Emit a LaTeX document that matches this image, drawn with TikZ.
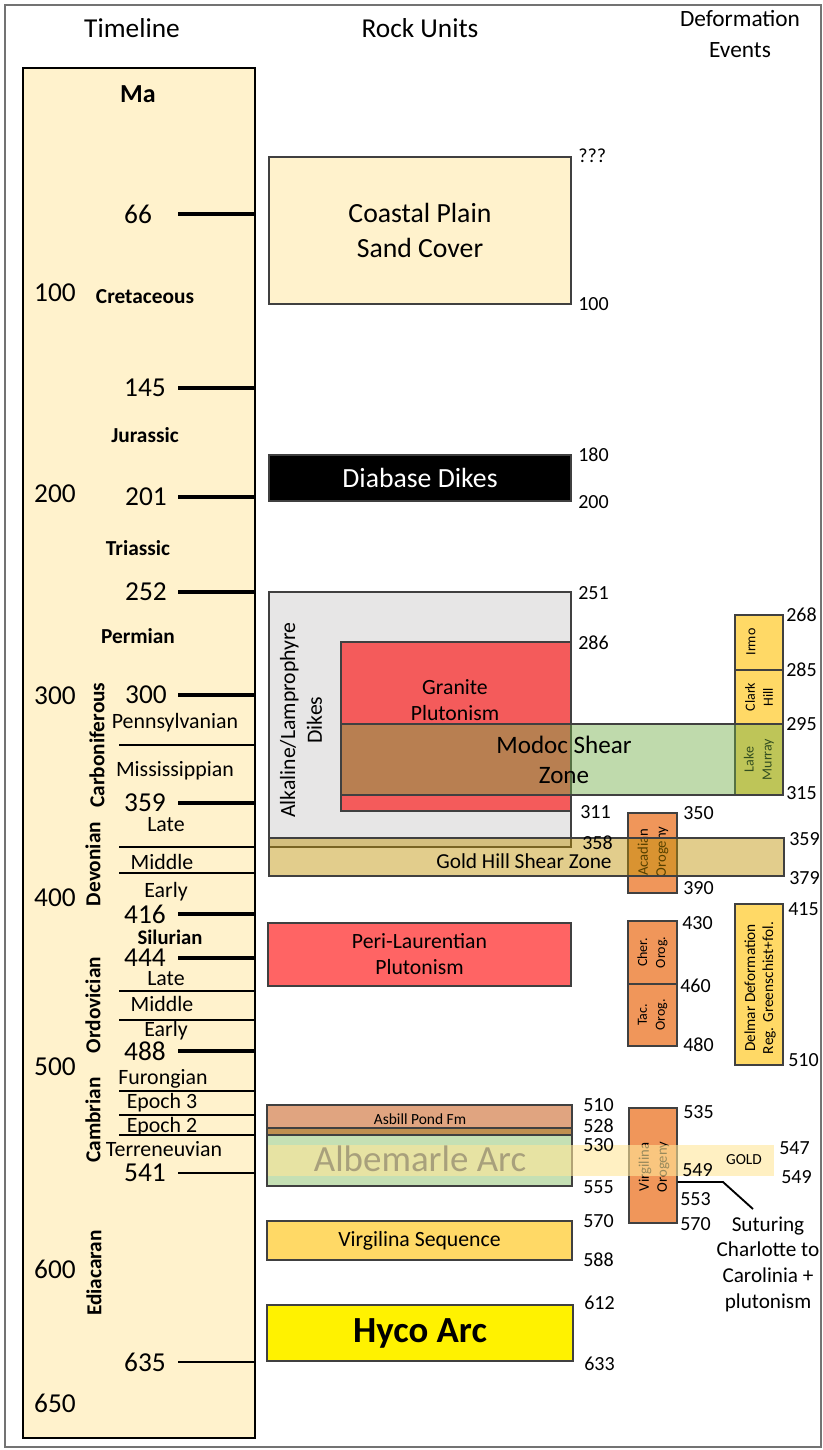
\documentclass[tikz,border=0pt]{standalone}
\usepackage{fontspec}
\setmainfont{Carlito}
\usepackage{xcolor}
\usepackage{tikz}
\usetikzlibrary{fit}

\definecolor{cream}{HTML}{FFF2CC}
\definecolor{dikegray}{HTML}{E7E6E6}
\definecolor{granred}{HTML}{F45B5B}
\definecolor{perired}{HTML}{FF6464}
\definecolor{shgreen}{HTML}{70AD47}
\definecolor{goldhill}{HTML}{BF9000}
\definecolor{paleyel}{HTML}{FFD966}
\definecolor{orog}{HTML}{F0965A}
\definecolor{asbill}{HTML}{E0A480}
\definecolor{asbrown}{HTML}{BF8F50}
\definecolor{albgreen}{HTML}{C5E0B4}
\definecolor{goldband}{HTML}{FFE699}
\definecolor{albtext}{RGB}{168,160,124}

\begin{document}
\begin{tikzpicture}[x=0.75pt, y=-0.75pt,
  head/.style={font=\fontsize{20.5}{23}\selectfont, align=center},
  tnum/.style={font=\fontsize{20.5}{20.5}\selectfont},
  era/.style={font=\bfseries\fontsize{16}{16}\selectfont},
  sub/.style={font=\fontsize{16.4}{16.4}\selectfont},
  unit/.style={draw=black!75, line width=1.1pt, inner sep=0pt},
  bigtxt/.style={font=\fontsize{20.8}{26.3}\selectfont, align=center},
  midtxt/.style={font=\fontsize{16.3}{19.5}\selectfont, align=center},
  evtxt/.style={font=\fontsize{10.5}{13.5}\selectfont, rotate=90, align=center},
  age/.style={font=\fontsize{15}{15}\selectfont, anchor=west, inner sep=0pt},
  majortick/.style={line width=3pt},
  subline/.style={line width=1pt}]
\useasboundingbox (0,0) rectangle (822,1450);

% frame and time column
\draw[black!55, line width=0.8pt] (5,5) rectangle (821,1447);
\node[draw, line width=2pt, fill=cream, inner sep=0pt, fit={(23,68) (255,1438)}] (timeline) {};
\node[head] (thead) at (132,28) {Timeline};
\node[head] (rhead) at (420,28) {Rock Units};
\node[head, font=\fontsize{17.5}{23}\selectfont] (dhead) at (740,34) {Deformation\\Events};
\node[font=\bfseries\fontsize{19.5}{19.5}\selectfont] (ma) at (138,94) {Ma};

\foreach \age/\yy/\xx in {66/214/138,145/388/145,201/497/146,252/592/146,300/695/146,359/803/145,416/914/145,444/958/145,488/1051/145}{
  \node[tnum] (t\age) at (\xx,\yy) {\age};
  \draw[majortick] (178,\yy) -- (timeline.east |- t\age);
}
\foreach \age/\yy in {541/1173,635/1362}{
  \node[tnum] (t\age) at (145,\yy) {\age};
  \draw[line width=2pt] (178,\yy) -- (timeline.east |- t\age);
}
\foreach \ma/\yy in {100/293,200/494,300/696,400/898,500/1067,600/1269,650/1403}
  \node[tnum] (s\ma) at (55,\yy) {\ma};
\foreach \yy in {745,847,873,991,1020,1091,1115,1135}
  \draw[subline] (119,\yy) -- (255,\yy);

\foreach \nm/\xx/\yy in {Cretaceous/145/297,Jurassic/145/435,Triassic/138/548,Permian/138/636}
  \node[era] (\nm) at (\xx,\yy) {\nm};
\node[era, font=\bfseries\fontsize{15.5}{15.5}\selectfont, inner sep=1pt] (Silurian) at (170,937) {Silurian};
\foreach \nm/\xx/\yy in {Carboniferous/97/745,Devonian/93/864,Ordovician/93/1005,Cambrian/93/1120,Ediacaran/94/1273}
  \node[era, rotate=90] (\nm) at (\xx,\yy) {\nm};
\foreach \nm/\xx/\yy [count=\i] in {Pennsylvanian/175/723,Mississippian/175/771,Late/166/825,Middle/162/862,Early/166/892,Late/166/979,Middle/162/1004,Early/166/1031,Furongian/163/1079,Epoch 3/162/1103,Epoch 2/162/1127,Terreneuvian/164/1149}
  \node[sub] (ep\i) at (\xx,\yy) {\nm};

% rock units and deformation events
\node[unit, fill=cream, fit={(269,157) (571,304)}] (coastal) {};
\node[bigtxt] (coastaltxt) at (coastal.center) {Coastal Plain\\Sand Cover};
\node[unit, fill=black, fit={(269,455) (571,501)}] (diabase) {};
\node[bigtxt, text=white] (diabasetxt) at (diabase.center) {Diabase Dikes};
\node[unit, fill=dikegray, fit={(269,592) (571,847)}] (alkaline) {};
\node[rotate=90, align=center, font=\fontsize{16.3}{20}\selectfont] (alktxt) at (301,720) {Alkaline/Lamprophyre\\Dikes};
\node[unit, fill=granred, fit={(341,642) (571,811)}] (granite) {};
\node[midtxt] (grantxt) at (455,700) {Granite\\Plutonism};

\node[unit, fill=paleyel, fit={(735,615) (783,670)}] (irmo) {};
\node[evtxt] (irmotxt) at (751,642) {Irmo};
\node[unit, fill=paleyel, fit={(735,670) (783,724)}] (clark) {};
\node[evtxt] (clarktxt) at (clark.center) {Clark\\Hill};
\node[unit, fill=paleyel, fit={(735,724) (783,795)}] (murray) {};
\node[evtxt] (murraytxt) at (murray.center) {Lake\\Murray};
\node[unit, fill=orog, fit={(628,813) (677,893)}] (acadian) {};
\node[evtxt, font=\fontsize{11}{13.5}\selectfont] (acadtxt) at (653,852) {Acadian\\Orogeny};

\node[unit, fill=shgreen, fill opacity=0.45, fit={(341,724) (783,795)}] (modoc) {};
\node[font=\fontsize{18.8}{22.5}\selectfont, align=center] (modoctxt) at (564,760) {Modoc Shear\\Zone};
\node[unit, fill=goldhill, fill opacity=0.45, fit={(269,838) (784,876)}] (goldhill) {};
\node[font=\fontsize{16}{16}\selectfont, inner sep=1pt] (goldhilltxt) at (524,861) {Gold Hill Shear Zone};

\node[unit, fill=perired, fit={(268,923) (571,986)}] (peri) {};
\node[midtxt] (peritxt) at (peri.center) {Peri-Laurentian\\Plutonism};
\node[unit, fill=orog, fit={(628,921) (677,984)}] (cher) {};
\node[evtxt] (chertxt) at (cher.center) {Cher.\\Orog.};
\node[unit, fill=orog, fit={(628,984) (677,1046)}] (tac) {};
\node[evtxt] (tactxt) at (tac.center) {Tac.\\Orog.};
\node[unit, fill=paleyel, fit={(735,904) (783,1065)}] (delmar) {};
\node[evtxt, font=\fontsize{11.5}{13.5}\selectfont] (delmartxt) at (760,988) {Delmar Deformation\\Reg. Greenschist+fol.};

\node[unit, fill=asbill, fit={(267,1105) (572,1128)}] (asbill) {};
\node[font=\fontsize{11.6}{11.6}\selectfont] (asbilltxt) at (420,1119) {Asbill Pond Fm};
\node[unit, fill=asbrown, fit={(267,1128) (572,1135)}] (asbase) {};
\node[unit, fill=albgreen, fit={(267,1135) (572,1186)}] (albemarle) {};
\node[unit, fill=orog, fit={(629,1108) (677,1223)}] (vorog) {};
\node[evtxt, font=\fontsize{11}{13.5}\selectfont] (vorogtxt) at (654,1167) {Virgilina\\Orogeny};
\node[fill=goldband, fill opacity=0.6, inner sep=0pt, fit={(268,1145) (774,1176)}] (gold) {};
\node[font=\fontsize{27.7}{27.7}\selectfont, text=albtext] (albtxt) at (420,1159) {Albemarle Arc};
\node[font=\fontsize{11.5}{11.5}\selectfont] (goldtxt) at (744,1160) {GOLD};
\node[unit, fill=paleyel, fit={(267,1221) (572,1260)}] (vseq) {};
\node[midtxt] (vseqtxt) at (vseq.center) {Virgilina Sequence};
\node[unit, fill=yellow, fit={(267,1305) (573,1361)}] (hyco) {};
\node[font=\bfseries\fontsize{27.6}{27.6}\selectfont] (hycotxt) at (hyco.center) {Hyco Arc};

\coordinate (sutbend) at (723,1182);
\coordinate (sutend) at (753,1209);
\draw[line width=1.4pt] (vorog.east |- sutbend) -- (sutbend) -- (sutend);
\node[font=\fontsize{15.9}{19.3}\selectfont, align=center] (suturing) at (768,1264) {Suturing\\Charlotte to\\Carolinia +\\plutonism};

% age labels
\foreach \txt/\xx/\yy [count=\i] in {???/578/156,100/578/304,180/578/455,200/578/502,251/578/593,286/578/643,311/580/812,358/582/843,510/583/1105,528/583/1126,530/583/1145,555/583/1187,570/583/1221,588/583/1260,612/584/1303,633/584/1364,268/786/615,285/786/670,295/786/724,315/786/793,359/789/839,379/789/878,350/683/813,390/683/888,430/682/923,460/680/986,480/683/1045,415/788/909,510/788/1060,535/683/1112,549/682/1170,553/680/1199,570/680/1224,547/779/1148,549/781/1177}
  \node[age] (age\i) at (\xx,\yy) {\txt};
\end{tikzpicture}
\end{document}
